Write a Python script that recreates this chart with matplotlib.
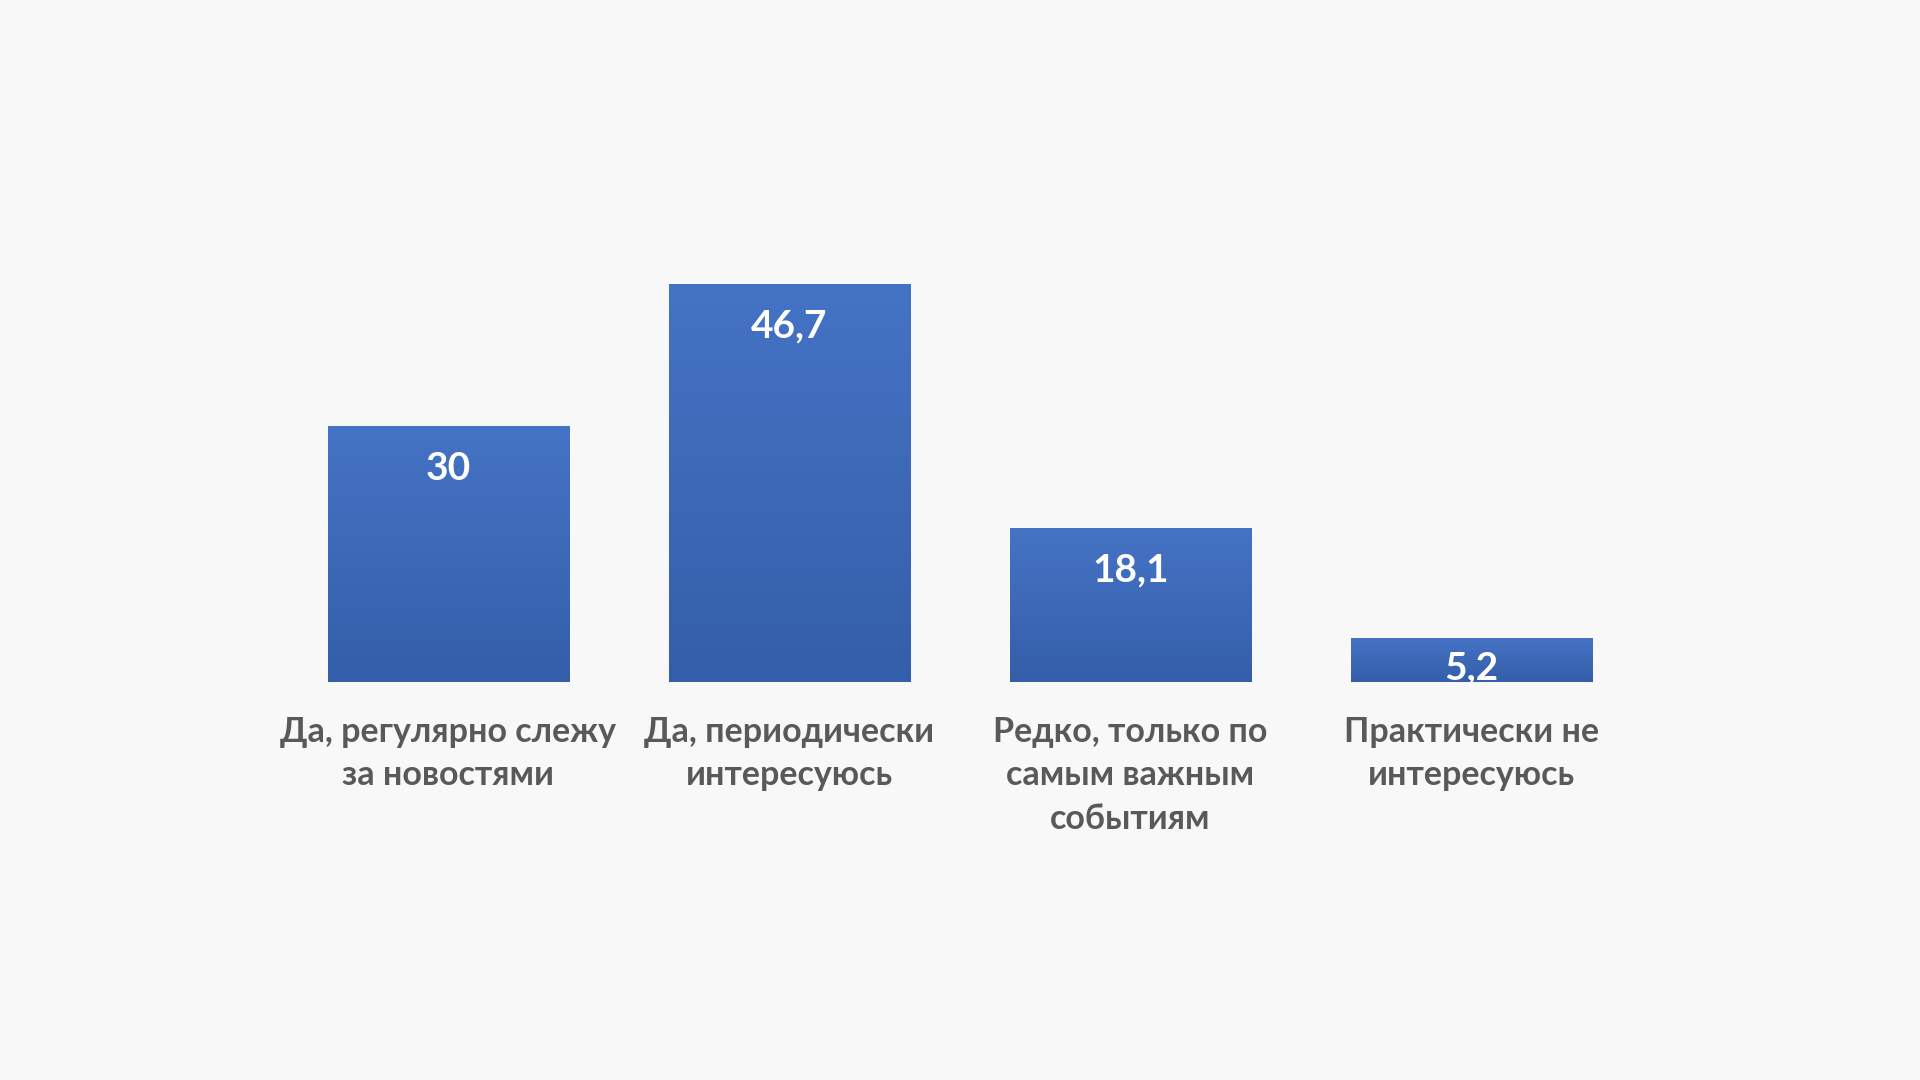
import numpy as np
import matplotlib.pyplot as plt
from matplotlib.colors import LinearSegmentedColormap

categories = ['Да, регулярно слежу\nза новостями',
              'Да, периодически\nинтересуюсь',
              'Редко, только по\nсамым важным\nсобытиям',
              'Практически не\nинтересуюсь']
values = [30, 46.7, 18.1, 5.2]
value_labels = ['30', '46,7', '18,1', '5,2']

plt.rcParams['font.family'] = ['Lato', 'DejaVu Sans']

bg = '#f8f8f8'
fig = plt.figure(figsize=(19.2, 10.8), dpi=100, facecolor=bg)
ax = fig.add_axes([278 / 1920, 1 - 682 / 1080, 1364 / 1920, 426.5 / 1080])
ax.set_facecolor(bg)

x = np.arange(len(values))
bars = ax.bar(x, values, width=0.707, color='none', edgecolor='none')

# vertical gradient like the office chart fill
grad = LinearSegmentedColormap.from_list('g', ['#345ea9', '#4573c5'])
for b in bars:
    x0, w, h = b.get_x(), b.get_width(), b.get_height()
    im = ax.imshow(np.linspace(0, 1, 256).reshape(-1, 1), cmap=grad, origin='lower',
                   extent=[x0, x0 + w, 0, h], aspect='auto', zorder=2)
    im.set_clip_path(b)

ax.set_xlim(-0.5, len(values) - 0.5)
ax.set_ylim(0, 50)

px = 426.5 / 50  # pixels per unit
for xi, v, lab in zip(x, values, value_labels):
    if v * px > 80:
        y = v - 42 / px
    else:
        y = v / 2 - 8 / px
    ax.text(xi, y, lab, ha='center', va='center', color='white',
            fontsize=28, fontweight='bold', zorder=3)

for xi, lab in zip(x, categories):
    ax.text(xi, -34 / px, lab, ha='center', va='top', color='#595959',
            fontsize=24.5, fontweight='bold', linespacing=1.44, clip_on=False)

for s in ax.spines.values():
    s.set_visible(False)
ax.set_xticks([])
ax.set_yticks([])

fig.savefig('out.png', dpi=100, facecolor=bg)
